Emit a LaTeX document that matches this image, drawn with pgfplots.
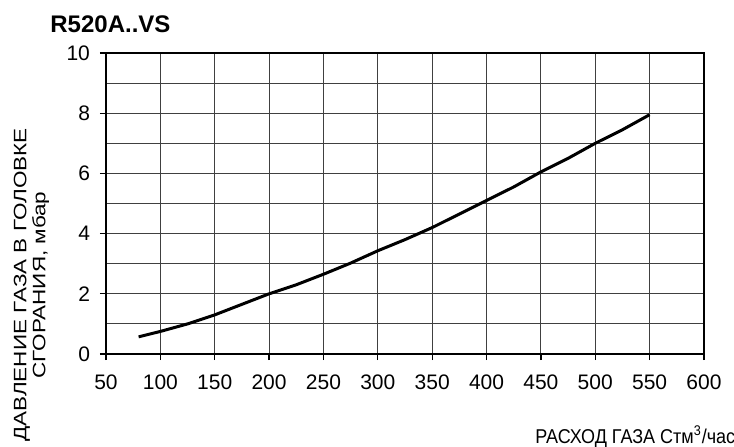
\documentclass[border=0pt]{standalone}
\usepackage{fontspec}
\setmainfont{Liberation Sans}
\usepackage{pgfplots}
\pgfplotsset{compat=1.18}
\begin{document}
\begin{tikzpicture}
  \begin{axis}[name=ax, at={(0,0)}, anchor=south west,
      width=299pt, height=150.5pt, scale only axis,
      xmin=50, xmax=600, ymin=0, ymax=10,
      xtick={50,100,...,600},
      ytick={0,2,...,10},
      minor ytick={1,3,...,9},
      grid=both,
      major grid style={black!75, line width=0.5pt},
      minor grid style={black!75, line width=0.5pt},
      axis line style={line width=0.7pt},
      tick pos=left, tick align=outside,
      major tick length=3pt, minor tick length=0pt,
      tick style={black, line width=0.6pt},
      /pgf/number format/assume math mode=true,
      ticklabel style={font=\fontsize{10.5}{12}\selectfont},
      xticklabel style={yshift=-4pt},
      yticklabel style={xshift=-1.5pt},
    ]
    \addplot[black, line width=1.5pt] coordinates {
      (80,0.57) (100,0.75) (125,1.0) (150,1.3) (175,1.65) (200,2.0)
      (225,2.3) (250,2.65) (275,3.02) (300,3.43) (325,3.8) (350,4.2)
      (375,4.65) (400,5.1) (425,5.55) (450,6.05) (475,6.5) (500,7.0)
      (525,7.45) (550,7.95)
    };
  \end{axis}
  % title
  \node[anchor=base west, inner sep=0pt, font=\fontsize{12}{14}\selectfont\bfseries]
    at ([shift={(-28pt,161pt)}]ax.south west) {R520A..VS};
  % y label (stretched along the text as in the reference)
  \node[rotate=90, inner sep=0pt, font=\fontsize{9}{9.5}\selectfont]
    at ([shift={(-37pt,34.5pt)}]ax.south west)
    {\scalebox{1.25}[1]{\begin{tabular}{@{}c@{}}ДАВЛЕНИЕ ГАЗА В ГОЛОВКЕ\\СГОРАНИЯ, мбар\end{tabular}}};
  % x label (narrow, as in the reference)
  \node[anchor=base west, inner sep=0pt, font=\fontsize{10}{11}\selectfont]
    at ([shift={(214.5pt,-44.5pt)}]ax.south west)
    {\scalebox{0.9}[1]{РАСХОД ГАЗА Стм\textsuperscript{3}/час}};
  \pgfresetboundingbox
  \path[use as bounding box] ([shift={(-53pt,-46pt)}]ax.south west)
    rectangle ([shift={(314pt,177pt)}]ax.south west);
\end{tikzpicture}
\end{document}
